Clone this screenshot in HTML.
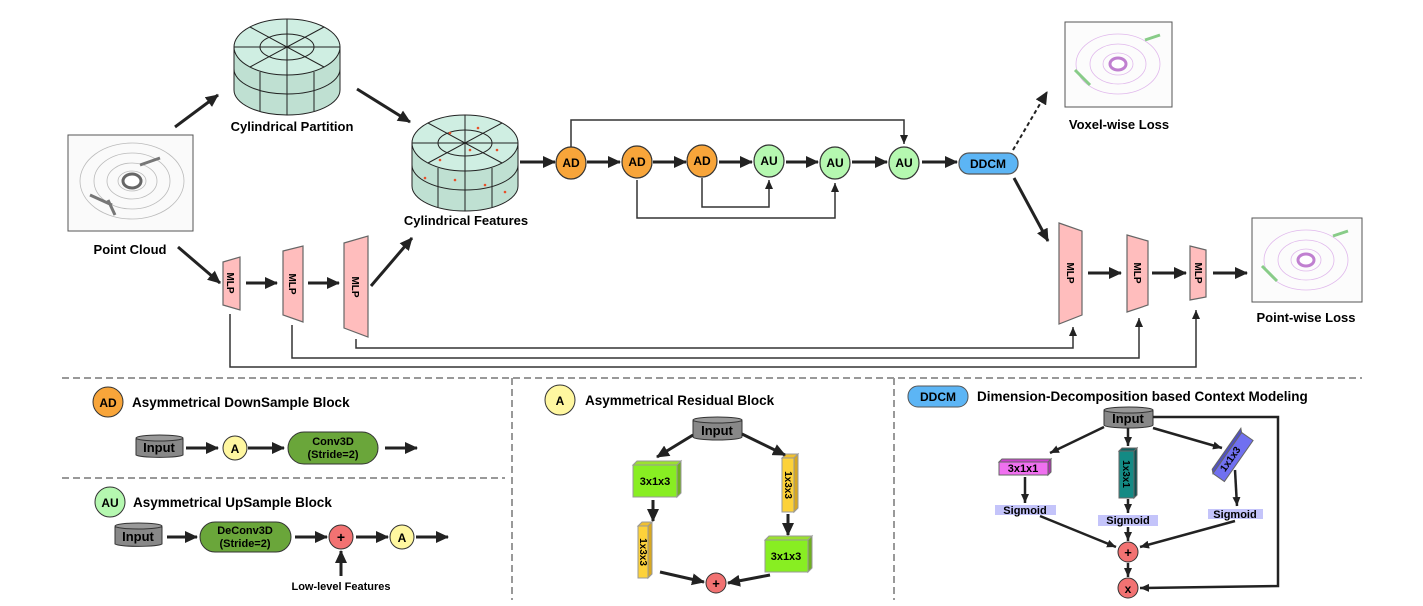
<!DOCTYPE html>
<html><head><meta charset="utf-8"><style>
html,body{margin:0;padding:0;background:#fff;}
svg{display:block;font-family:"Liberation Sans",Arial,sans-serif;font-weight:bold;}
</style></head><body>
<svg width="1423" height="606" viewBox="0 0 1423 606" xmlns="http://www.w3.org/2000/svg">
<defs>
<marker id="ah" markerUnits="userSpaceOnUse" markerWidth="14" markerHeight="12" refX="12" refY="6" orient="auto"><path d="M0,0 L13,6 L0,12 Z" fill="#222"/></marker>
<marker id="as" markerUnits="userSpaceOnUse" markerWidth="10" markerHeight="10" refX="9" refY="5" orient="auto"><path d="M0,1 L9,5 L0,9 Z" fill="#222"/></marker>
</defs>

<!-- Point cloud image -->
<rect x="68" y="135" width="125" height="96" fill="#fafafa" stroke="#555" stroke-width="1"/>
<g fill="none" stroke="#bbb" stroke-width="0.8">
<ellipse cx="132" cy="181" rx="14" ry="10"/><ellipse cx="132" cy="181" rx="25" ry="18"/><ellipse cx="132" cy="181" rx="38" ry="28"/><ellipse cx="132" cy="181" rx="52" ry="38"/>
</g>
<ellipse cx="132" cy="181" rx="9" ry="7" fill="#fff" stroke="#666" stroke-width="3"/>
<path d="M90 195 L112 205 M108 200 L115 215 M140 165 L160 158" stroke="#777" stroke-width="3"/>
<text x="130" y="254" font-size="13" text-anchor="middle">Point Cloud</text>

<!-- Cylinder partition -->
<g stroke="#222" stroke-width="1">
<path d="M234 47 L234 90 A53 25 0 0 0 340 90 L340 47 Z" fill="#bfe0d2"/>
<path d="M234 69 A53 25 0 0 0 340 69" fill="none"/>
<ellipse cx="287" cy="47" rx="53" ry="28" fill="#cfeee2"/>
<ellipse cx="287" cy="47" rx="27" ry="13" fill="none"/>
<path d="M234 47 L340 47 M287 19 L287 75 M250 27 L324 67 M250 67 L324 27 M287 75 L287 115 M260 72 L260 111 M314 72 L314 111" fill="none"/>
</g>
<text x="292" y="131" font-size="13" text-anchor="middle">Cylindrical Partition</text>

<!-- Cylinder features -->
<g stroke="#222" stroke-width="1">
<path d="M412 143 L412 186 A53 25 0 0 0 518 186 L518 143 Z" fill="#bfe0d2"/>
<path d="M412 165 A53 25 0 0 0 518 165" fill="none"/>
<ellipse cx="465" cy="143" rx="53" ry="28" fill="#cfeee2"/>
<ellipse cx="465" cy="143" rx="27" ry="13" fill="none"/>
<path d="M412 143 L518 143 M465 115 L465 171 M428 123 L502 163 M428 163 L502 123 M465 171 L465 211 M438 168 L438 207 M492 168 L492 207" fill="none"/>
</g>
<g fill="#e8502a"><circle cx="450" cy="133" r="1.3"/><circle cx="478" cy="128" r="1.3"/><circle cx="470" cy="150" r="1.3"/><circle cx="440" cy="160" r="1.3"/><circle cx="497" cy="150" r="1.3"/><circle cx="455" cy="180" r="1.3"/><circle cx="485" cy="185" r="1.3"/><circle cx="425" cy="178" r="1.3"/><circle cx="505" cy="192" r="1.3"/></g>
<text x="466" y="225" font-size="13" text-anchor="middle">Cylindrical Features</text>

<!-- top-left arrows -->
<g stroke="#222" stroke-width="3" marker-end="url(#ah)">
<line x1="175" y1="127" x2="218" y2="95"/>
<line x1="357" y1="89" x2="410" y2="122"/>
<line x1="178" y1="247" x2="220" y2="283"/>
<line x1="246" y1="283" x2="277" y2="283"/>
<line x1="308" y1="283" x2="339" y2="283"/>
<line x1="371" y1="286" x2="412" y2="238"/>
<line x1="520" y1="162" x2="555" y2="162"/>
<line x1="587" y1="162" x2="620" y2="162"/>
<line x1="653" y1="162" x2="686" y2="162"/>
<line x1="719" y1="162" x2="752" y2="162"/>
<line x1="786" y1="162" x2="818" y2="162"/>
<line x1="852" y1="162" x2="887" y2="162"/>
<line x1="922" y1="162" x2="957" y2="162"/>
<line x1="1014" y1="178" x2="1048" y2="241"/>
<line x1="1088" y1="273" x2="1121" y2="273"/>
<line x1="1152" y1="273" x2="1186" y2="273"/>
<line x1="1213" y1="273" x2="1247" y2="273"/>
</g>

<!-- MLPs -->
<g fill="#ffbdbd" stroke="#666" stroke-width="1.2">
<path d="M223 262 L240 257 L240 310 L223 305 Z"/>
<path d="M283 251 L303 246 L303 322 L283 315 Z"/>
<path d="M344 243 L368 236 L368 337 L344 328 Z"/>
<path d="M1059 223 L1082 231 L1082 315 L1059 324 Z"/>
<path d="M1127 235 L1148 241 L1148 305 L1127 312 Z"/>
<path d="M1190 246 L1206 250 L1206 297 L1190 300 Z"/>
</g>
<g font-size="10" text-anchor="middle">
<text transform="translate(227,283) rotate(90)">MLP</text>
<text transform="translate(289,284) rotate(90)">MLP</text>
<text transform="translate(352,287) rotate(90)">MLP</text>
<text transform="translate(1067,273) rotate(90)">MLP</text>
<text transform="translate(1134,273) rotate(90)">MLP</text>
<text transform="translate(1195,273) rotate(90)">MLP</text>
</g>

<!-- long skip lines -->
<g fill="none" stroke="#333" stroke-width="1.5" marker-end="url(#as)">
<path d="M230 314 L230 367 L1196 367 L1196 310"/>
<path d="M292 325 L292 358 L1139 358 L1139 318"/>
<path d="M356 339 L356 348 L1073 348 L1073 327"/>
<path d="M571 147 L571 120 L904 120 L904 144"/>
<path d="M637 180 L637 218 L835 218 L835 183"/>
<path d="M702 178 L702 207 L769 207 L769 180"/>
</g>

<!-- AD / AU -->
<g stroke="#333" stroke-width="1.2">
<ellipse cx="571" cy="163" rx="15" ry="16" fill="#f8a53a"/>
<ellipse cx="637" cy="162" rx="15" ry="16" fill="#f8a53a"/>
<ellipse cx="702" cy="161" rx="15" ry="16" fill="#f8a53a"/>
<ellipse cx="769" cy="161" rx="15" ry="16" fill="#b5f8b0"/>
<ellipse cx="835" cy="163" rx="15" ry="16" fill="#b5f8b0"/>
<ellipse cx="904" cy="163" rx="15" ry="16" fill="#b5f8b0"/>
<rect x="959" y="153" width="59" height="21" rx="10" fill="#5cb5f5" stroke="#555"/>
</g>
<g font-size="12" text-anchor="middle">
<text x="571" y="167">AD</text><text x="637" y="166">AD</text><text x="702" y="165">AD</text>
<text x="769" y="165">AU</text><text x="835" y="167">AU</text><text x="904" y="167">AU</text>
<text x="988" y="168">DDCM</text>
</g>
<line x1="1013" y1="150" x2="1047" y2="92" stroke="#222" stroke-width="2" stroke-dasharray="4,3" marker-end="url(#ah)"/>

<!-- output images -->
<rect x="1065" y="22" width="107" height="85" fill="#fcfcfc" stroke="#555"/>
<g fill="none" stroke="#e0b8ec" stroke-width="0.8"><ellipse cx="1118" cy="64" rx="15" ry="11"/><ellipse cx="1118" cy="64" rx="28" ry="20"/><ellipse cx="1118" cy="64" rx="42" ry="30"/></g>
<ellipse cx="1118" cy="64" rx="8" ry="6" fill="#fff" stroke="#c080d0" stroke-width="3"/>
<path d="M1075 70 L1090 85 M1145 40 L1160 35" stroke="#8c8" stroke-width="3"/>
<text x="1119" y="129" font-size="13" text-anchor="middle">Voxel-wise Loss</text>
<rect x="1252" y="218" width="110" height="84" fill="#fcfcfc" stroke="#555"/>
<g fill="none" stroke="#e0b8ec" stroke-width="0.8"><ellipse cx="1306" cy="260" rx="15" ry="11"/><ellipse cx="1306" cy="260" rx="28" ry="20"/><ellipse cx="1306" cy="260" rx="42" ry="30"/></g>
<ellipse cx="1306" cy="260" rx="8" ry="6" fill="#fff" stroke="#c080d0" stroke-width="3"/>
<path d="M1262 266 L1277 281 M1333 236 L1348 231" stroke="#8c8" stroke-width="3"/>
<text x="1306" y="322" font-size="13" text-anchor="middle">Point-wise Loss</text>

<!-- separators -->
<g stroke="#999" stroke-width="2" stroke-dasharray="7,4" fill="none">
<line x1="62" y1="378" x2="1362" y2="378"/>
<line x1="62" y1="478" x2="505" y2="478"/>
<line x1="512" y1="378" x2="512" y2="600"/>
<line x1="894" y1="378" x2="894" y2="600"/>
</g>

<!-- AD block legend -->
<circle cx="108" cy="402" r="15" fill="#f8a53a" stroke="#333"/>
<text x="108" y="407" font-size="12" text-anchor="middle">AD</text>
<text x="132" y="407" font-size="13.5">Asymmetrical DownSample Block</text>
<g stroke="#333" stroke-width="1">
<path d="M136 439 L136 455 A24 3 0 0 0 183 455 L183 439 Z" fill="#888"/>
<ellipse cx="159.5" cy="438" rx="23.5" ry="3" fill="#999"/>
</g>
<text x="159" y="452" font-size="13" text-anchor="middle">Input</text>
<circle cx="235" cy="448" r="12" fill="#fff7a0" stroke="#333"/>
<text x="235" y="453" font-size="12" text-anchor="middle">A</text>
<rect x="288" y="432" width="90" height="32" rx="16" fill="#6aa63a" stroke="#333"/>
<text x="333" y="445" font-size="11" text-anchor="middle">Conv3D</text>
<text x="333" y="458" font-size="11" text-anchor="middle">(Stride=2)</text>
<g stroke="#222" stroke-width="3" marker-end="url(#ah)">
<line x1="186" y1="448" x2="218" y2="448"/><line x1="248" y1="448" x2="284" y2="448"/><line x1="385" y1="448" x2="417" y2="448"/>
</g>

<!-- AU block legend -->
<circle cx="110" cy="502" r="15" fill="#b5f8b0" stroke="#333"/>
<text x="110" y="507" font-size="12" text-anchor="middle">AU</text>
<text x="133" y="507" font-size="13.5">Asymmetrical UpSample Block</text>
<g stroke="#333" stroke-width="1">
<path d="M115 527 L115 544 A24 3 0 0 0 162 544 L162 527 Z" fill="#888"/>
<ellipse cx="138.5" cy="526" rx="23.5" ry="3" fill="#999"/>
</g>
<text x="138" y="541" font-size="13" text-anchor="middle">Input</text>
<rect x="200" y="522" width="91" height="30" rx="15" fill="#6aa63a" stroke="#333"/>
<text x="245" y="534" font-size="11" text-anchor="middle">DeConv3D</text>
<text x="245" y="547" font-size="11" text-anchor="middle">(Stride=2)</text>
<circle cx="341" cy="537" r="12" fill="#f27272" stroke="#333"/>
<text x="341" y="542" font-size="14" text-anchor="middle">+</text>
<circle cx="402" cy="537" r="12" fill="#fff7a0" stroke="#333"/>
<text x="402" y="542" font-size="12" text-anchor="middle">A</text>
<g stroke="#222" stroke-width="3" marker-end="url(#ah)">
<line x1="167" y1="537" x2="197" y2="537"/><line x1="295" y1="537" x2="327" y2="537"/><line x1="356" y1="537" x2="388" y2="537"/><line x1="416" y1="537" x2="448" y2="537"/>
<line x1="341" y1="576" x2="341" y2="551"/>
</g>
<text x="341" y="590" font-size="11" text-anchor="middle">Low-level Features</text>

<!-- A block -->
<circle cx="560" cy="400" r="15" fill="#fff7a0" stroke="#333"/>
<text x="560" y="405" font-size="12" text-anchor="middle">A</text>
<text x="585" y="405" font-size="13.5">Asymmetrical Residual Block</text>
<g stroke="#333" stroke-width="1">
<path d="M693 421 L693 437 A24.5 3 0 0 0 742 437 L742 421 Z" fill="#888"/>
<ellipse cx="717.5" cy="420" rx="24.5" ry="3" fill="#999"/>
</g>
<text x="717" y="435" font-size="13" text-anchor="middle">Input</text>
<!-- left green cube -->
<g stroke="#999" stroke-width="1">
<path d="M633 465 L637 461 L681 461 L677 465 Z" fill="#9be030"/>
<path d="M677 465 L681 461 L681 493 L677 497 Z" fill="#6fb020"/>
<rect x="633" y="465" width="44" height="32" fill="#88ee22"/>
<path d="M638 526 L642 522 L652 522 L648 526 Z" fill="#f0c030"/>
<path d="M648 526 L652 522 L652 574 L648 578 Z" fill="#d8a820"/>
<rect x="638" y="526" width="10" height="52" fill="#fdd23a"/>
<path d="M782 458 L786 454 L798 454 L794 458 Z" fill="#f0c030"/>
<path d="M794 458 L798 454 L798 508 L794 512 Z" fill="#d8a820"/>
<rect x="782" y="458" width="12" height="54" fill="#fdd23a"/>
<path d="M765 540 L769 536 L812 536 L808 540 Z" fill="#9be030"/>
<path d="M808 540 L812 536 L812 568 L808 572 Z" fill="#6fb020"/>
<rect x="765" y="540" width="43" height="32" fill="#88ee22"/>
</g>
<text x="655" y="485" font-size="11" text-anchor="middle">3x1x3</text>
<text x="786" y="560" font-size="11" text-anchor="middle">3x1x3</text>
<text transform="translate(640,552) rotate(90)" font-size="10" text-anchor="middle">1x3x3</text>
<text transform="translate(785,485) rotate(90)" font-size="10" text-anchor="middle">1x3x3</text>
<circle cx="716" cy="583" r="10" fill="#f27272" stroke="#333"/>
<text x="716" y="588" font-size="13" text-anchor="middle">+</text>
<g stroke="#222" stroke-width="3" marker-end="url(#ah)">
<line x1="693" y1="435" x2="657" y2="457"/><line x1="742" y1="434" x2="785" y2="455"/>
<line x1="653" y1="500" x2="653" y2="521"/><line x1="788" y1="514" x2="788" y2="535"/>
<line x1="660" y1="572" x2="704" y2="582"/><line x1="770" y1="575" x2="728" y2="583"/>
</g>

<!-- DDCM block -->
<rect x="908" y="386" width="60" height="21" rx="10" fill="#5cb5f5" stroke="#555"/>
<text x="938" y="401" font-size="12" text-anchor="middle">DDCM</text>
<text x="977" y="401" font-size="13.5">Dimension-Decomposition based Context Modeling</text>
<g stroke="#333" stroke-width="1">
<path d="M1104 411 L1104 425 A24.5 3 0 0 0 1153 425 L1153 411 Z" fill="#888"/>
<ellipse cx="1128.5" cy="410" rx="24.5" ry="3" fill="#999"/>
</g>
<text x="1128" y="423" font-size="13" text-anchor="middle">Input</text>
<g stroke="#666" stroke-width="1">
<path d="M999 462 L1002 459 L1051 459 L1048 462 Z" fill="#d040d0"/>
<path d="M1048 462 L1051 459 L1051 472 L1048 475 Z" fill="#b030b0"/>
<rect x="999" y="462" width="49" height="13" fill="#f070f0"/>
<path d="M1119 451 L1122 448 L1137 448 L1134 451 Z" fill="#106060"/>
<path d="M1134 451 L1137 448 L1137 495 L1134 498 Z" fill="#0a5050"/>
<rect x="1119" y="451" width="15" height="47" fill="#148a84"/>
<g transform="translate(1233,457) rotate(-55)">
<rect x="-25" y="-7" width="50" height="14" fill="#7070f0"/>
<path d="M-25 -7 L-22 -10 L28 -10 L25 -7 Z" fill="#5050c0"/>
</g>
</g>
<text x="1023" y="472" font-size="11" text-anchor="middle">3x1x1</text>
<text transform="translate(1123,474) rotate(90)" font-size="10" text-anchor="middle">1x3x1</text>
<text transform="translate(1233,461) rotate(-55)" font-size="10" text-anchor="middle">1x1x3</text>
<rect x="995" y="505" width="61" height="10" fill="#c4c4fa"/>
<rect x="1098" y="515" width="60" height="11" fill="#c4c4fa"/>
<rect x="1208" y="509" width="55" height="10" fill="#c4c4fa"/>
<g font-size="11" text-anchor="middle"><text x="1025" y="514">Sigmoid</text><text x="1128" y="524">Sigmoid</text><text x="1235" y="518">Sigmoid</text></g>
<circle cx="1128" cy="552" r="10" fill="#f27272" stroke="#333"/>
<text x="1128" y="557" font-size="13" text-anchor="middle">+</text>
<circle cx="1128" cy="588" r="10" fill="#f27272" stroke="#333"/>
<text x="1128" y="593" font-size="12" text-anchor="middle">x</text>
<g stroke="#222" stroke-width="2.5" marker-end="url(#as)">
<line x1="1104" y1="427" x2="1050" y2="453"/><line x1="1128" y1="428" x2="1128" y2="446"/><line x1="1153" y1="428" x2="1222" y2="448"/>
<line x1="1025" y1="477" x2="1025" y2="503"/><line x1="1128" y1="499" x2="1128" y2="513"/><line x1="1235" y1="470" x2="1237" y2="506"/>
<line x1="1040" y1="516" x2="1116" y2="547"/><line x1="1128" y1="527" x2="1128" y2="541"/><line x1="1235" y1="521" x2="1140" y2="547"/>
<line x1="1128" y1="563" x2="1128" y2="577"/>
</g>
<path d="M1153 417 L1278 417 L1278 586 L1140 588" fill="none" stroke="#222" stroke-width="2.5" marker-end="url(#as)"/>
</svg>
</body></html>
